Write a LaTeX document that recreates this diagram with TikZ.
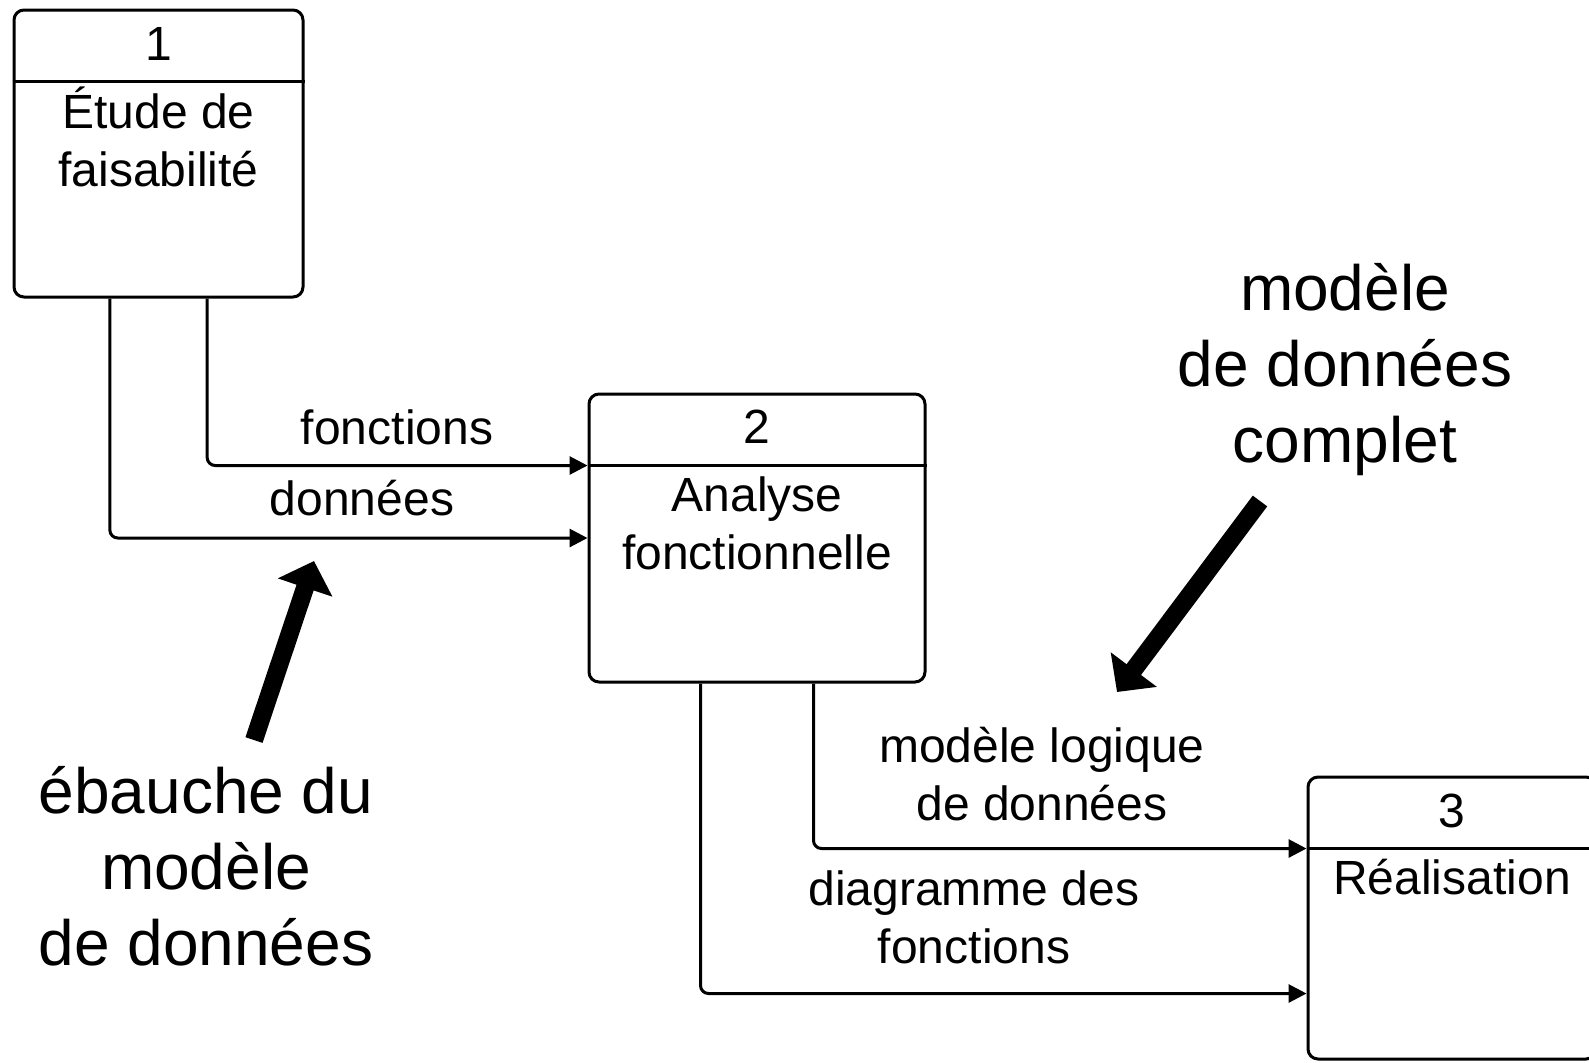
\documentclass[tikz,border=0pt]{standalone}
\usepackage{fontspec}
\setmainfont{Liberation Sans}
\usetikzlibrary{arrows.meta,calc}
\tikzset{
  procbox/.style={draw, line width=1.5pt, rounded corners=5pt, inner sep=0pt},
  divider/.style={line width=1.5pt},
  flow/.style={line width=1.5pt, rounded corners=4pt, -{Triangle[length=9pt,width=9pt]}},
  % multi-line labels are anchored on the baseline of their last line
  lbl/.style={font=\fontsize{24}{29}\selectfont, anchor=base, align=center, inner sep=0pt},
  biglbl/.style={font=\fontsize{32}{38}\selectfont, anchor=base, align=center, inner sep=0pt},
  bigarrow/.style={line width=9pt, -{Triangle[length=14pt,width=28pt]}},
}
\begin{document}
\begin{tikzpicture}[x=0.5pt,y=-0.5pt]
\clip (0,0) rectangle (1589,1062);

% process boxes
\node[procbox, minimum width=144.5pt, minimum height=143.5pt] (b1) at (158.5,153.5) {};
\node[procbox, minimum width=168pt, minimum height=144pt] (b2) at (757,538) {};
\node[procbox, minimum width=144pt, minimum height=141pt] (b3) at (1452,918) {};

% header dividers
\draw[divider] ($(b1.north west)+(0,73)$) -- ($(b1.north east)+(0,73)$);
\draw[divider] ($(b2.north west)+(0,73)$) -- ($(b2.north east)+(0,73)$);
\draw[divider] ($(b3.north west)+(0,73)$) -- ($(b3.north east)+(0,73)$);

% box texts
\node[lbl] (n1) at ($(b1.north)+(0,52)$) {1};
\node[lbl] (d1) at ($(b1.north)+(0,178)$) {Étude de\\faisabilité};
\node[lbl] (n2) at ($(b2.north)+(0,51)$) {2};
\node[lbl] (d2) at ($(b2.north)+(0,177)$) {Analyse\\fonctionnelle};
\node[lbl] (n3) at ($(b3.north)+(0,52)$) {3};
\node[lbl] (d3) at ($(b3.north)+(0,119)$) {Réalisation};

% flows between boxes
\draw[flow] ($(b1.south west)!2/3!(b1.south east)$) |- ($(b2.north west)+(0,73)$);
\draw[flow] ($(b1.south west)!1/3!(b1.south east)$) |- (b2.west);
\draw[flow] ($(b2.south west)!2/3!(b2.south east)$) |- ($(b3.north west)+(0,73)$);
\draw[flow] ($(b2.south west)!1/3!(b2.south east)$) |- ($(b3.north west)+(0,218)$);

% flow labels
\node[lbl] (lf) at (397,444) {fonctions};
\node[lbl] (ld) at (362,515) {données};
\node[lbl] (lm) at (1042,820) {modèle logique\\de données};
\node[lbl] (lg) at (974,963) {diagramme des\\fonctions};

% annotations
\node[biglbl] (tc) at (1345,462) {modèle\\de données\\complet};
\node[biglbl] (te) at (206,965) {ébauche du\\modèle\\de données};

\coordinate (e1) at (254,740);
\coordinate (e2) at (314,561);
\draw[bigarrow] (e1) -- (e2);
\coordinate (c1) at (1260,501);
\coordinate (c2) at (1117,692);
\draw[bigarrow] (c1) -- (c2);
\end{tikzpicture}
\end{document}
